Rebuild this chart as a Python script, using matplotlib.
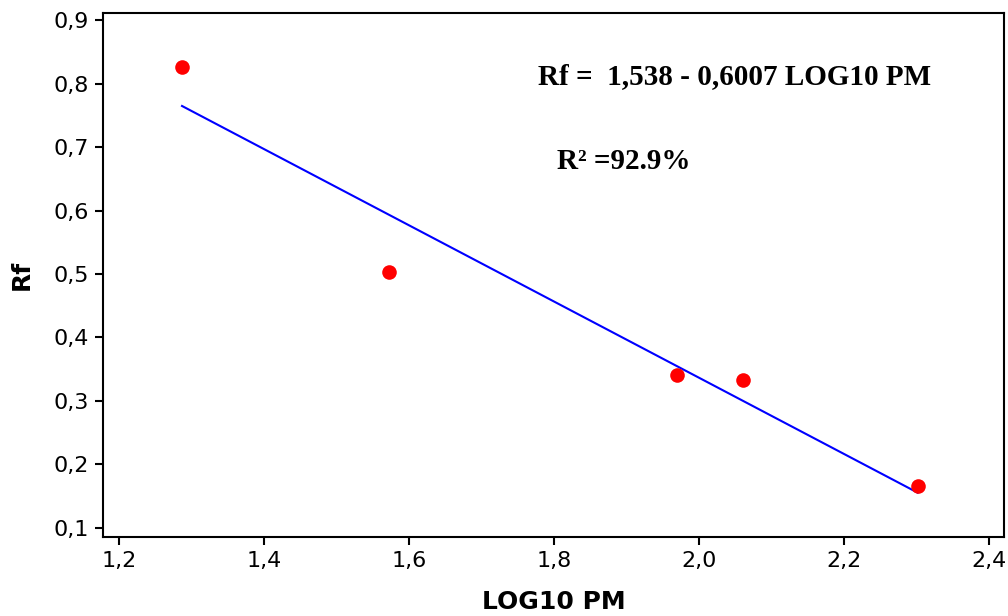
import numpy as np
import matplotlib
matplotlib.use("Agg")
import matplotlib.pyplot as plt

log_pm = [1.287, 1.573, 1.970, 2.061, 2.302]
rf = [0.826, 0.503, 0.340, 0.333, 0.165]

# regression  Rf = 1,538 - 0,6007 LOG10 PM
intercept = 1.538
slope = -0.6007

x_ticks = [1.2, 1.4, 1.6, 1.8, 2.0, 2.2, 2.4]
y_ticks = [0.1, 0.2, 0.3, 0.4, 0.5, 0.6, 0.7, 0.8, 0.9]

fig = plt.figure(figsize=(10.08, 6.16), dpi=100)
ax = fig.add_axes([0.1022, 0.1282, 0.8938, 0.8507])

fit_x = np.array([min(log_pm), max(log_pm)])
fit_y = intercept + slope * fit_x
ax.plot(fit_x, fit_y, color="#0000ff", lw=1.5, zorder=2)
ax.plot(log_pm, rf, "o", color="#ff0000", ms=10.5, mec="none", zorder=3)

ax.set_xlim(1.178, 2.421)
ax.set_ylim(0.0853, 0.9115)
ax.set_xticks(x_ticks)
ax.set_yticks(y_ticks)
ax.set_xticklabels([f"{v:.1f}".replace(".", ",") for v in x_ticks])
ax.set_yticklabels([f"{v:.1f}".replace(".", ",") for v in y_ticks])
ax.tick_params(labelsize=16, width=1.5, length=6, pad=4)
for s in ax.spines.values():
    s.set_linewidth(1.5)

ax.set_xlabel("LOG10 PM", fontsize=18, fontweight="bold", labelpad=14)
ax.set_ylabel("Rf", fontsize=18, fontweight="bold", labelpad=14)

ax.text(0.483, 0.878, "Rf =  1,538 - 0,6007 LOG10 PM", transform=ax.transAxes,
        family="Liberation Serif", fontweight="bold", fontsize=21, va="center")
ax.text(0.504, 0.716, "R² =92.9%", transform=ax.transAxes,
        family="Liberation Serif", fontweight="bold", fontsize=21, va="center")

fig.savefig("out.png", dpi=100)
